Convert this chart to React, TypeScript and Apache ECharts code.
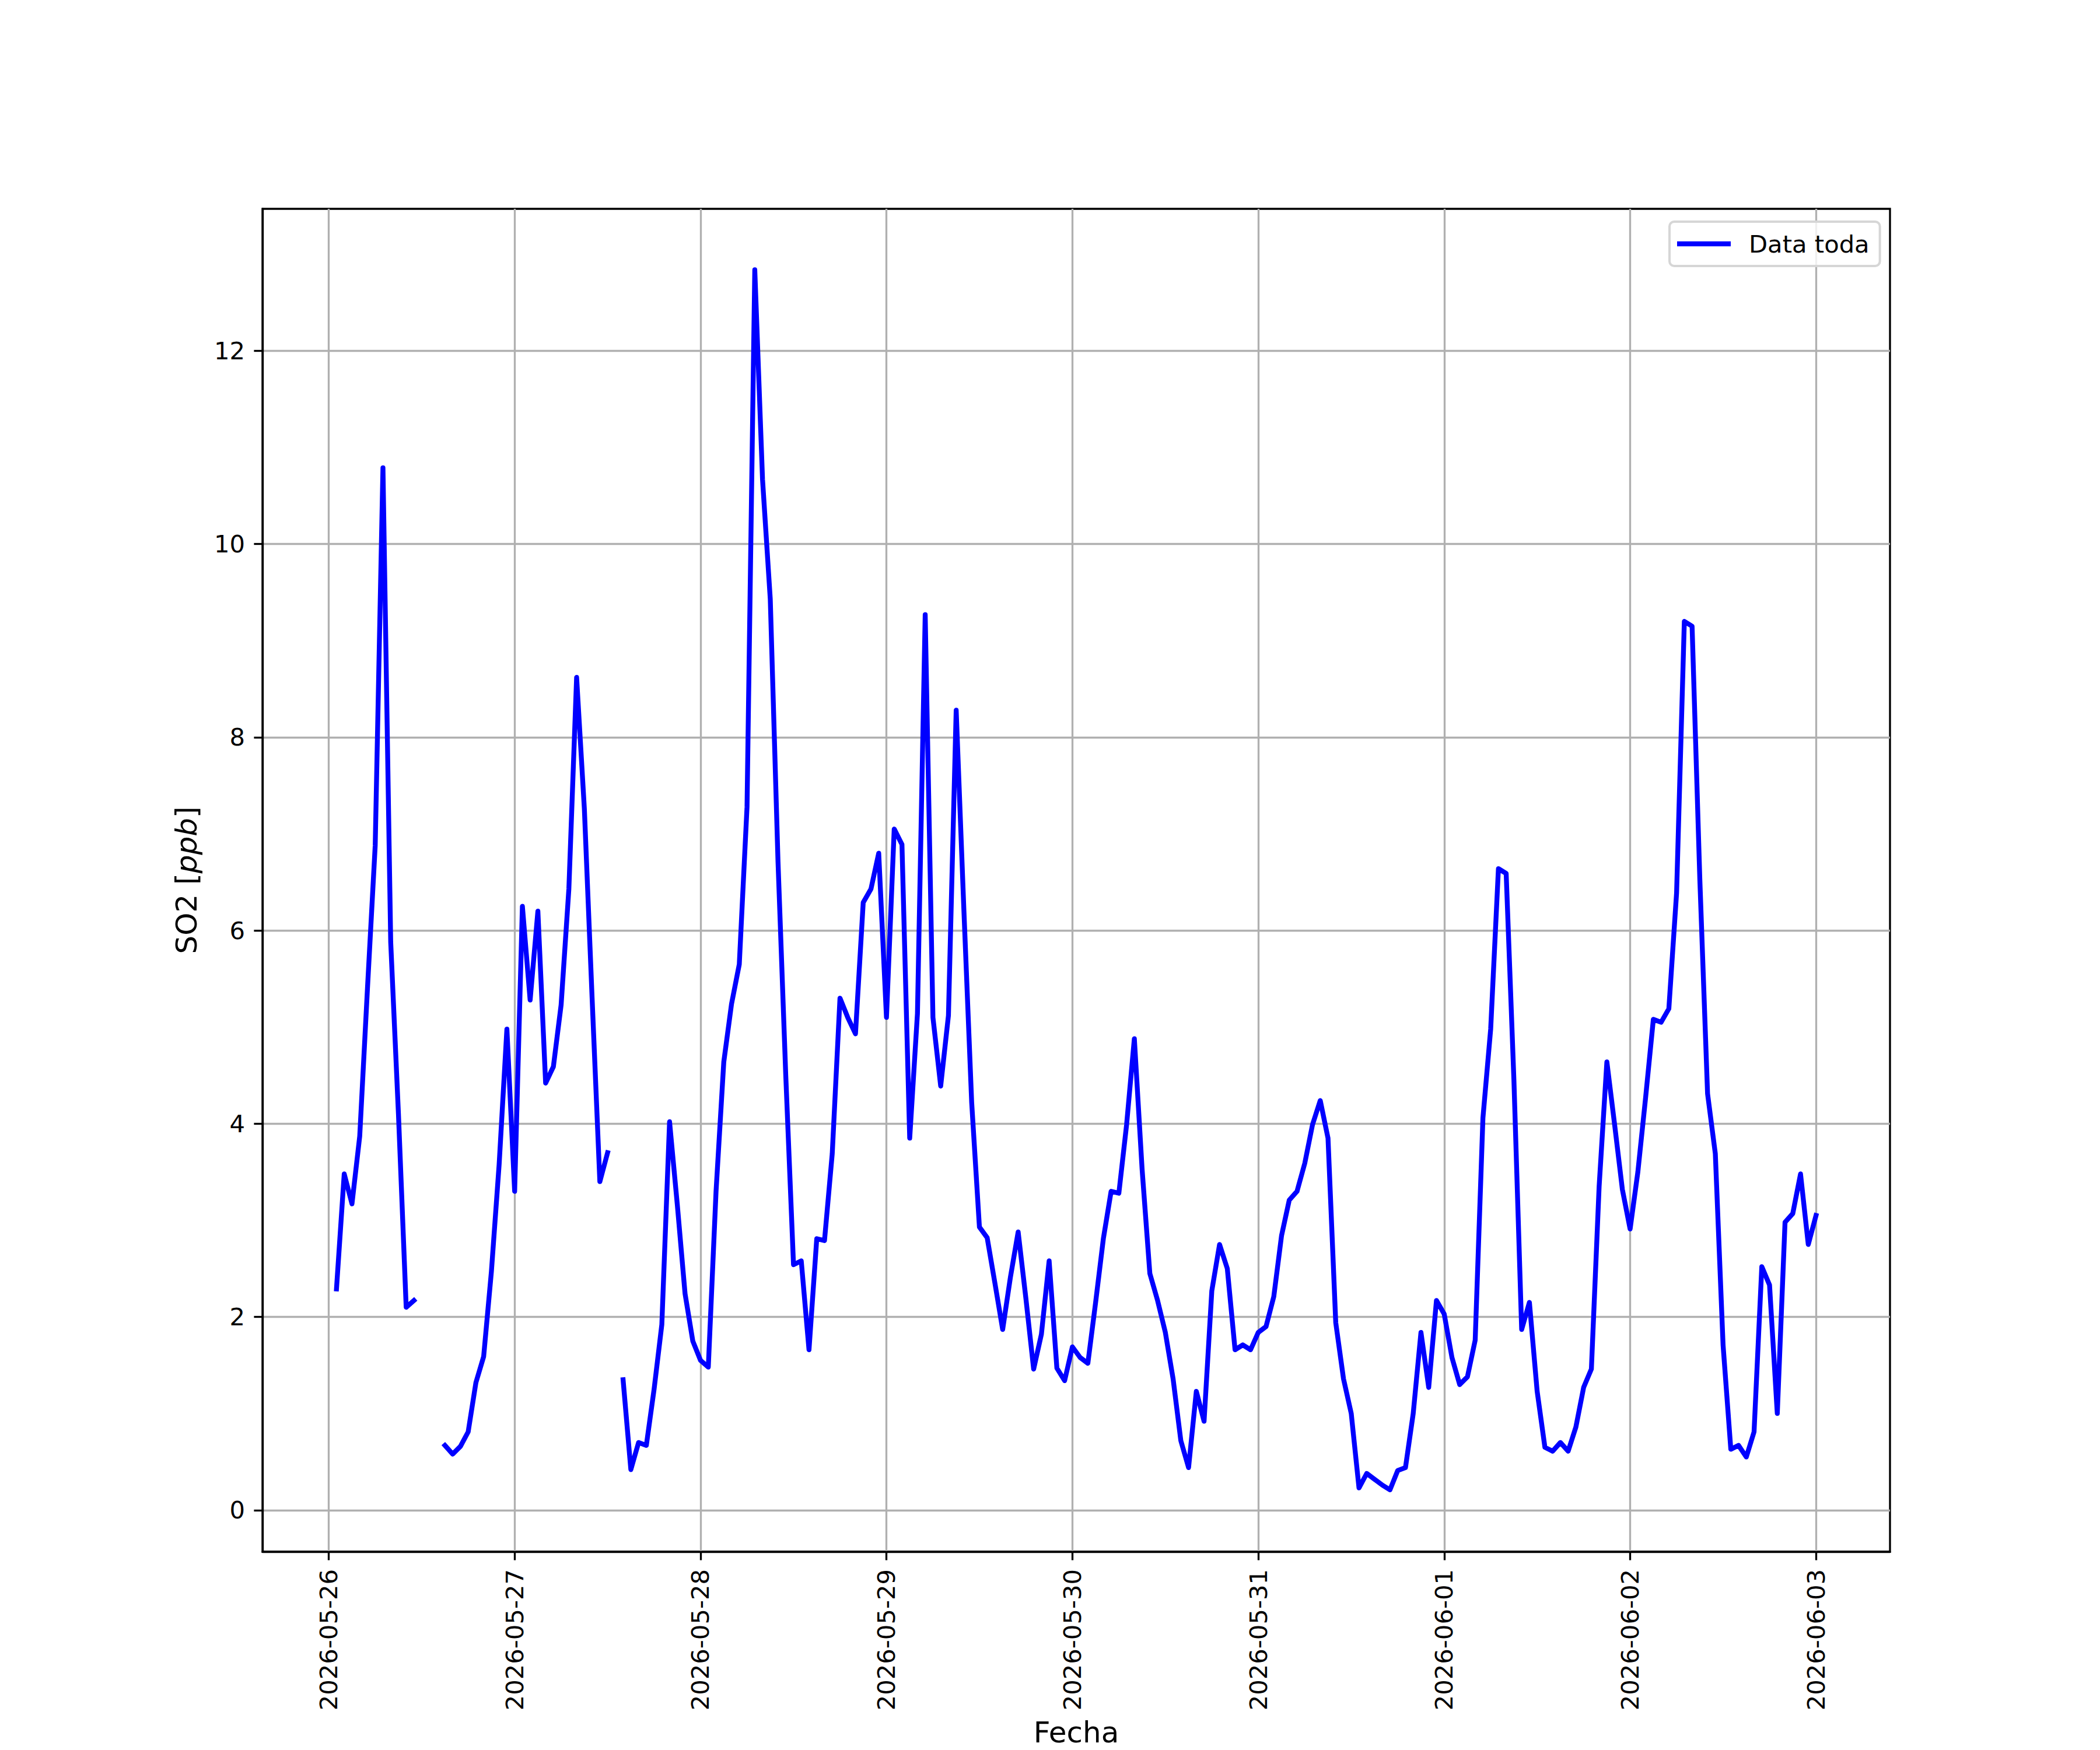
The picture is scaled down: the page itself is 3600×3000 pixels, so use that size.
import React, { useEffect, useRef } from "react";
import * as echarts from "echarts";

// Tick labels (one per midnight)
const DAY_LABELS = [
  "2026-05-26",
  "2026-05-27",
  "2026-05-28",
  "2026-05-29",
  "2026-05-30",
  "2026-05-31",
  "2026-06-01",
  "2026-06-02",
  "2026-06-03",
];

// Hourly SO2 [ppb]; each array = hours 01:00 .. 24:00 (next day's 00:00) of that date
const SO2_0526 = [2.29, 3.48, 3.17, 3.87, 5.4, 6.88, 10.79, 5.88, 4.1, 2.1, 2.17, null, null, null, 0.67, 0.58, 0.66, 0.81, 1.32, 1.59, 2.47, 3.58, 4.98, 3.3];
const SO2_0527 = [6.25, 5.28, 6.2, 4.42, 4.59, 5.23, 6.43, 8.62, 7.26, 5.3, 3.4, 3.7, null, 1.35, 0.42, 0.7, 0.67, 1.25, 1.92, 4.02, 3.16, 2.24, 1.75, 1.55];
const SO2_0528 = [1.48, 3.3, 4.64, 5.24, 5.65, 7.28, 12.84, 10.67, 9.43, 6.71, 4.5, 2.54, 2.58, 1.66, 2.81, 2.79, 3.69, 5.3, 5.1, 4.93, 6.29, 6.43, 6.8, 5.1];
const SO2_0529 = [7.05, 6.89, 3.85, 5.14, 9.27, 5.1, 4.39, 5.12, 8.28, 6.2, 4.22, 2.93, 2.82, 2.35, 1.87, 2.41, 2.88, 2.19, 1.46, 1.82, 2.58, 1.47, 1.34, 1.69];
const SO2_0530 = [1.58, 1.52, 2.15, 2.81, 3.3, 3.28, 3.99, 4.88, 3.53, 2.45, 2.17, 1.84, 1.36, 0.72, 0.44, 1.23, 0.92, 2.27, 2.75, 2.5, 1.66, 1.71, 1.66, 1.84];
const SO2_0531 = [1.9, 2.21, 2.84, 3.21, 3.3, 3.59, 3.99, 4.24, 3.85, 1.94, 1.36, 1.0, 0.23, 0.38, 0.32, 0.26, 0.21, 0.41, 0.44, 1.0, 1.84, 1.27, 2.17, 2.03];
const SO2_0601 = [1.58, 1.3, 1.38, 1.76, 4.06, 4.98, 6.64, 6.59, 4.45, 1.87, 2.15, 1.23, 0.65, 0.61, 0.7, 0.61, 0.86, 1.27, 1.46, 3.35, 4.64, 3.99, 3.32, 2.91];
const SO2_0602 = [3.5, 4.27, 5.08, 5.05, 5.19, 6.39, 9.2, 9.15, 6.53, 4.31, 3.69, 1.71, 0.63, 0.67, 0.55, 0.81, 2.52, 2.33, 1.0, 2.98, 3.07, 3.48, 2.75, 3.05];

const SERIES_NAME = "Data toda";
const X_NAME = "Fecha";
const Y_TICKS = [0, 2, 4, 6, 8, 10, 12];

const FONT = "DejaVu Sans";

if (typeof document !== "undefined") {
  document.documentElement.style.margin = "0";
  document.documentElement.style.padding = "0";
  document.documentElement.style.overflow = "hidden";
  document.body.style.margin = "0";
  document.body.style.padding = "0";
  document.body.style.overflow = "hidden";
}

export default function App() {
  const ref = useRef<HTMLDivElement>(null);

  useEffect(() => {
    document.body.style.margin = "0";
    const el = ref.current;
    if (!el) return;
    const chart = echarts.init(el, null, { renderer: "svg", width: 3600, height: 3000 });

    const values = [
      ...SO2_0526,
      ...SO2_0527,
      ...SO2_0528,
      ...SO2_0529,
      ...SO2_0530,
      ...SO2_0531,
      ...SO2_0601,
      ...SO2_0602,
    ];
    // x = hours since 2026-05-26 00:00
    const data = values.map((v, i) => [i + 1, v]);
    const xTicks = DAY_LABELS.map((_, i) => i * 24);
    const n = values.length;
    const xSpan = n - 1;
    const xMin = 1 - 0.05 * xSpan;
    const xMax = n + 0.05 * xSpan;

    const lw = 3.33;

    chart.setOption({
      animation: false,
      backgroundColor: "#ffffff",
      textStyle: { fontFamily: FONT, color: "#000" },
      grid: {
        left: 450,
        right: 360,
        top: 358,
        bottom: 331,
        show: true,
        borderColor: "#000",
        borderWidth: lw,
        backgroundColor: "transparent",
        containLabel: false,
      },
      legend: {
        left: 2862,
        top: 380,
        orient: "horizontal",
        icon: "rect",
        itemWidth: 92,
        itemHeight: 8.3,
        padding: [16, 18, 16, 13],
        backgroundColor: "rgba(255,255,255,0.8)",
        borderColor: "#d6d6d6",
        borderWidth: 4,
        borderRadius: 8,
        textStyle: {
          fontFamily: FONT,
          fontSize: 41.7,
          color: "#000",
          padding: [0, 0, 0, 26],
          lineHeight: 44,
        },
        data: [{ name: SERIES_NAME, itemStyle: { color: "#0000ff" } }],
      },
      xAxis: {
        type: "value",
        min: xMin,
        max: xMax,
        minInterval: 24,
        maxInterval: 24,
        splitNumber: 8,
        name: X_NAME,
        nameLocation: "middle",
        nameGap: 285,
        nameTextStyle: { fontFamily: FONT, fontSize: 50, color: "#000" },
        axisLine: { show: true, onZero: false, lineStyle: { color: "#000", width: lw } },
        axisTick: {
          show: true,
          inside: false,
          length: 14.6,
          lineStyle: { color: "#000", width: lw },
          customValues: xTicks,
        },
        axisLabel: {
          rotate: 90,
          margin: 30,
          fontFamily: FONT,
          fontSize: 41.7,
          color: "#000",
          customValues: xTicks,
          showMinLabel: true,
          showMaxLabel: true,
          formatter: (v: number) => {
            const k = Math.round(v / 24);
            return Math.abs(v - k * 24) < 1e-6 && k >= 0 && k < DAY_LABELS.length ? DAY_LABELS[k] : "";
          },
        },
        splitLine: { show: true, lineStyle: { color: "#b0b0b0", width: lw } },
      },
      yAxis: {
        type: "value",
        min: -0.43,
        max: 13.47,
        minInterval: 2,
        maxInterval: 2,
        splitNumber: 7,
        name: "SO2 [{i|ppb}]",
        nameLocation: "middle",
        nameRotate: 90,
        nameGap: 105,
        nameTextStyle: {
          fontFamily: FONT,
          fontSize: 50,
          color: "#000",
          rich: {
            i: { fontFamily: FONT, fontSize: 50, fontStyle: "italic", color: "#000" },
          },
        },
        axisLine: { show: true, onZero: false, lineStyle: { color: "#000", width: lw } },
        axisTick: {
          show: true,
          inside: false,
          length: 14.6,
          lineStyle: { color: "#000", width: lw },
          customValues: Y_TICKS,
        },
        axisLabel: {
          margin: 30,
          fontFamily: FONT,
          fontSize: 41.7,
          color: "#000",
          customValues: Y_TICKS,
          formatter: (v: number) => {
            const r = Math.round(v);
            return Math.abs(v - r) < 1e-6 && r % 2 === 0 ? String(r) : "";
          },
        },
        splitLine: { show: true, lineStyle: { color: "#b0b0b0", width: lw } },
      },
      series: [
        {
          name: SERIES_NAME,
          type: "line",
          data,
          showSymbol: false,
          symbol: "none",
          connectNulls: false,
          color: "#0000ff",
          lineStyle: { color: "#0000ff", width: 8.33, join: "round", cap: "square" },
          z: 3,
        },
      ],
    });

    return () => chart.dispose();
  }, []);

  return <div ref={ref} style={{ width: 3600, height: 3000, display: "block" }} />;
}
